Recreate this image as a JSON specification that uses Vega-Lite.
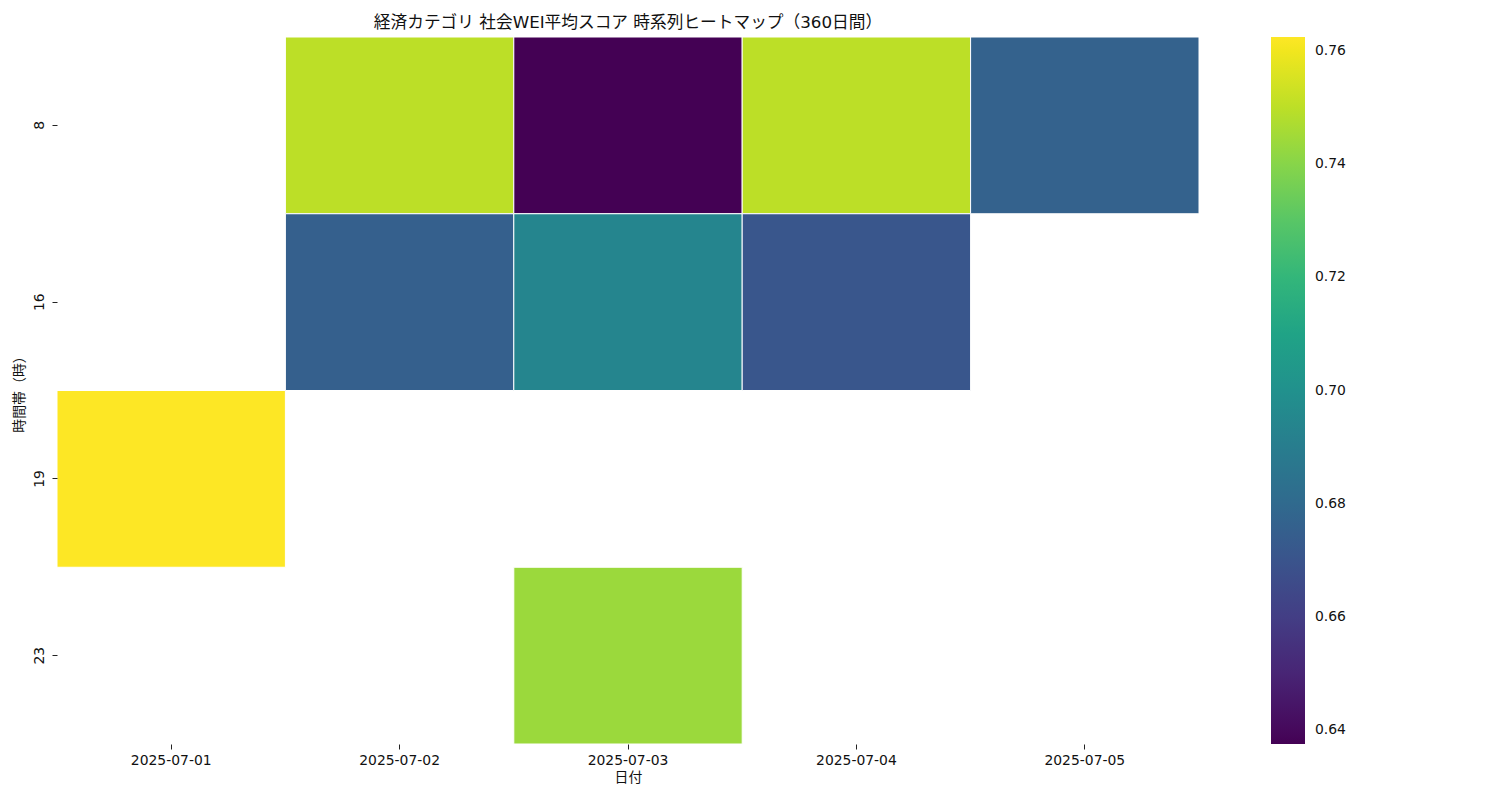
{
  "$schema": "https://vega.github.io/schema/vega-lite/v6.json",
  "width": 1142,
  "height": 707,
  "autosize": {"type": "none"},
  "padding": {"left": 57, "top": 37, "right": 301, "bottom": 56},
  "background": "white",
  "config": {
    "font": "DejaVu Sans, Noto Sans CJK JP",
    "view": {"stroke": null},
    "axis": {"domain": false, "grid": false, "tickColor": "#222", "tickSize": 5, "labelFontSize": 13.9, "labelColor": "#111", "titleFontSize": 13.9, "titleFontWeight": "normal", "titleColor": "#111"}
  },
  "title": {"text": "経済カテゴリ 社会WEI平均スコア 時系列ヒートマップ（360日間）", "fontSize": 16.7, "fontWeight": "normal", "color": "#111", "anchor": "middle", "offset": 5},
  "data": {"values": [
    {"date": "2025-07-01", "hour": 19, "score": 0.7625},
    {"date": "2025-07-02", "hour": 8, "score": 0.750},
    {"date": "2025-07-02", "hour": 16, "score": 0.675},
    {"date": "2025-07-03", "hour": 8, "score": 0.6375},
    {"date": "2025-07-03", "hour": 16, "score": 0.694},
    {"date": "2025-07-03", "hour": 23, "score": 0.744},
    {"date": "2025-07-04", "hour": 8, "score": 0.750},
    {"date": "2025-07-04", "hour": 16, "score": 0.671},
    {"date": "2025-07-05", "hour": 8, "score": 0.676}
  ]},
  "mark": {"type": "rect", "stroke": "white", "strokeWidth": 1},
  "encoding": {
    "x": {"field": "date", "type": "ordinal", "title": "日付",
      "scale": {"domain": ["2025-07-01", "2025-07-02", "2025-07-03", "2025-07-04", "2025-07-05"], "paddingInner": 0, "paddingOuter": 0},
      "axis": {"labelAngle": 0, "labelPadding": 4, "titlePadding": 4}},
    "y": {"field": "hour", "type": "ordinal", "title": "時間帯（時）",
      "scale": {"domain": [8, 16, 19, 23], "paddingInner": 0, "paddingOuter": 0},
      "axis": {"labelAngle": -90, "labelBaseline": "middle", "labelAlign": "center", "labelPadding": 13, "titlePadding": 6}},
    "color": {"field": "score", "type": "quantitative",
      "scale": {"scheme": "viridis", "domain": [0.6375, 0.7625], "nice": false},
      "legend": {"title": null, "orient": "right", "offset": 72, "padding": 0, "gradientLength": 707, "gradientThickness": 34, "gradientStrokeWidth": 0, "values": [0.64, 0.66, 0.68, 0.70, 0.72, 0.74, 0.76], "format": ".2f", "labelFontSize": 13.9, "labelColor": "#111", "labelOffset": 10}}
  }
}
